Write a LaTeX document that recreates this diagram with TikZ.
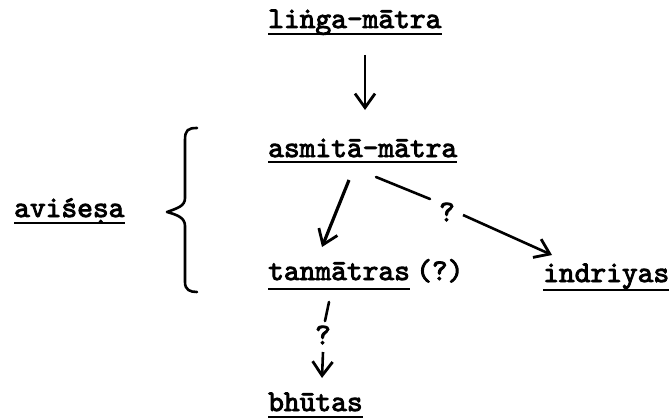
\documentclass[tikz,border=0pt]{standalone}
\usepackage{fontspec}
\usetikzlibrary{arrows.meta,calc}
\newfontfamily\twfam{lmmono10-regular.otf}[FakeBold=3]
\newcommand\twfont{\twfam\fontsize{30}{34}\selectfont}
\begin{document}
\begin{tikzpicture}[x=1pt,y=-1pt,
  lbl/.style={anchor=base west, inner sep=0pt, font=\twfont},
  qm/.style={inner sep=0pt, font=\twfont},
  uline/.style={line width=2.4pt},
  arr/.style={line width=2.6pt, -{Straight Barb[length=14pt,width=20pt,line width=2.8pt]}},
  seg/.style={line width=2.6pt, line cap=round}]
\useasboundingbox (0,0) rectangle (672,420);
% labels
\node[lbl] (linga) at (268,28) {liṅga-mātra};
\node[lbl] (asmita) at (268,157) {asmitā-mātra};
\node[lbl] (tanm) at (268,280) {tanmātras};
\node[lbl] (tq) at (416,280) {(?)};
\node[lbl] (indr) at (543,282) {indriyas};
\node[lbl] (bhut) at (268,411) {bhūtas};
\node[lbl] (avis) at (14,217) {aviśeṣa};
\node[qm] (q1) at (447,212) {?};
\node[qm] (q2) at (323,335) {?};
% underlines
\foreach \n/\d in {linga/6,asmita/5,tanm/9,indr/8,bhut/6,avis/6}{
  \draw[uline] ($(\n.base west)+(0,\d)$) -- ($(\n.base east)+(0,\d)$);
}
% connector end points
\coordinate (a1) at (365,55);
\coordinate (a2) at (365,110);
\coordinate (b1) at (349,180);
\coordinate (b2) at (322,247);
\coordinate (c1) at (376,177);
\coordinate (c2) at (430,199);
\coordinate (c3) at (463,215);
\coordinate (c4) at (552,255);
\coordinate (d1) at (329,302);
\coordinate (d2) at (325,321);
\coordinate (d3) at (323,352);
\coordinate (d4) at (322,378);
% connectors
\draw[arr] (a1) -- (a2);
\draw[arr, line width=3.2pt] (b1) -- (b2);
\draw[seg] (c1) -- (c2);
\draw[arr] (c3) -- (c4);
\draw[seg] (d1) -- (d2);
\draw[arr] (d3) -- (d4);
% brace
\draw[line width=2.6pt, line cap=round, line join=round]
  (197,128) .. controls (188,128) and (185,130) .. (185,140) -- (185,198)
  .. controls (185,206) and (178,208) .. (167,212)
  .. controls (178,215) and (185,218) .. (185,226) -- (185,282)
  .. controls (185,290) and (190,292) .. (197,292);
\end{tikzpicture}
\end{document}
